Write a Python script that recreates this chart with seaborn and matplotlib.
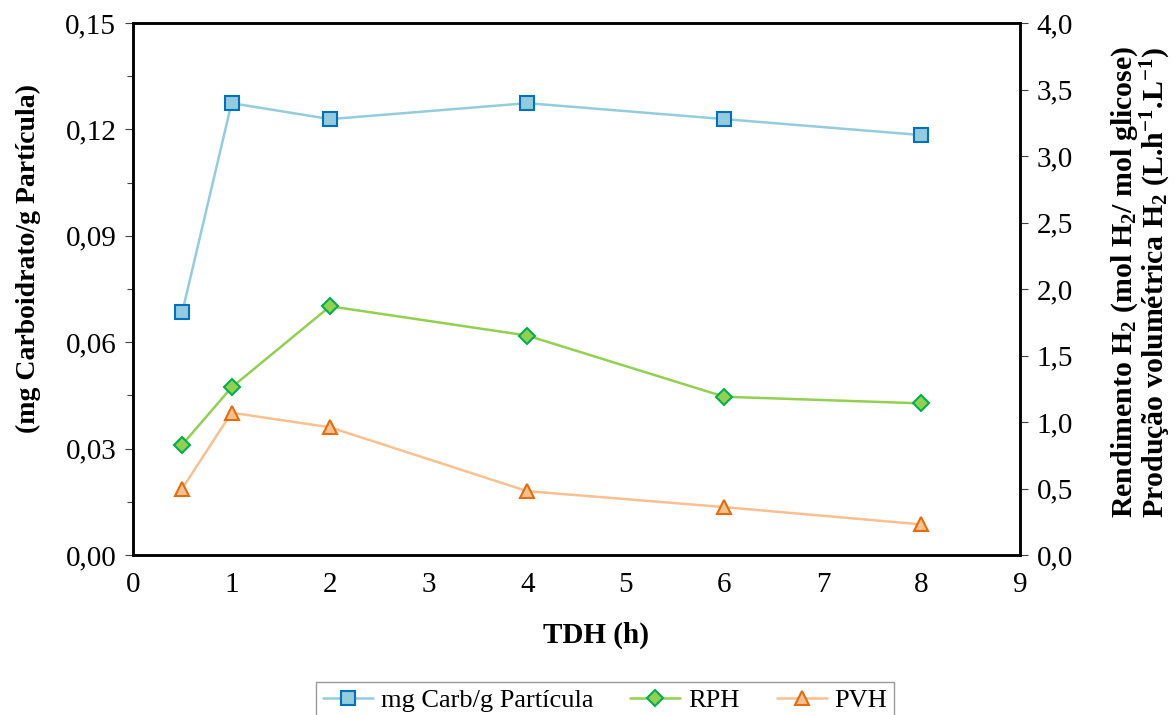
import matplotlib
matplotlib.use("Agg")
import matplotlib.pyplot as plt
import seaborn as sns
import pandas as pd
from matplotlib.ticker import MultipleLocator, FuncFormatter

# Data: hydraulic retention time (h) and measured responses
tdh = [0.5, 1, 2, 4, 6, 8]
carb = [0.0685, 0.1274, 0.1229, 0.1274, 0.1229, 0.1184]   # mg carbohydrate / g particle
rph = [0.83, 1.26, 1.87, 1.65, 1.19, 1.14]                 # H2 yield (mol H2 / mol glucose)
pvh = [0.50, 1.07, 0.96, 0.48, 0.36, 0.23]                 # volumetric H2 production

x_ticks = list(range(0, 10))
left_ticks = [0.00, 0.03, 0.06, 0.09, 0.12, 0.15]
right_ticks = [0.0, 0.5, 1.0, 1.5, 2.0, 2.5, 3.0, 3.5, 4.0]

sns.set_style("white")
plt.rcParams["font.family"] = ["Liberation Serif", "DejaVu Serif"]
plt.rcParams["text.color"] = "black"
plt.rcParams["axes.labelcolor"] = "black"
plt.rcParams["xtick.color"] = "black"
plt.rcParams["ytick.color"] = "black"
plt.rcParams["mathtext.fontset"] = "custom"
plt.rcParams["mathtext.rm"] = "Liberation Serif"
plt.rcParams["mathtext.bf"] = "Liberation Serif:bold"

df = pd.DataFrame({"TDH": tdh, "carb": carb, "rph": rph, "pvh": pvh})

fig = plt.figure(figsize=(11.75, 7.15), dpi=100)
ax = fig.add_axes([133 / 1175, 1 - 555 / 715, (1020 - 133) / 1175, (555 - 23) / 715])
ax2 = ax.twinx()

lw = 1.8
sns.lineplot(data=df, x="TDH", y="carb", ax=ax, color="#93CDDD", linewidth=lw,
             marker="s", markersize=10, markerfacecolor="#93CDDD",
             markeredgecolor="#0070C0", markeredgewidth=1.5,
             label="mg Carb/g Partícula", legend=False)
sns.lineplot(data=df, x="TDH", y="rph", ax=ax2, color="#92D050", linewidth=lw,
             marker="D", markersize=8, markerfacecolor="#92D050",
             markeredgecolor="#00B050", markeredgewidth=1.5,
             label="RPH", legend=False)
sns.lineplot(data=df, x="TDH", y="pvh", ax=ax2, color="#FAC090", linewidth=lw,
             marker="^", markersize=10.5, markerfacecolor="#FAC090",
             markeredgecolor="#E46C0A", markeredgewidth=1.5,
             label="PVH", legend=False)

comma = lambda fmt: FuncFormatter(lambda v, p: (fmt % v).replace(".", ","))

ax.set_xlim(0, 9)
ax.set_ylim(0, 0.15)
ax2.set_ylim(0, 4.0)
ax.set_xticks(x_ticks)
ax.xaxis.set_minor_locator(MultipleLocator(0.5))
ax.set_yticks(left_ticks)
ax.yaxis.set_minor_locator(MultipleLocator(0.015))
ax.yaxis.set_major_formatter(comma("%.2f"))
ax2.set_yticks(right_ticks)
ax2.yaxis.set_major_formatter(comma("%.1f"))

for a in (ax, ax2):
    for s in a.spines.values():
        s.set_linewidth(1.8)
        s.set_color("black")
ax.tick_params(axis="both", which="major", direction="out", length=6, width=0.8,
               labelsize=21, color="#404040", pad=6)
ax.tick_params(axis="both", which="minor", direction="out", length=4, width=0.8,
               color="#404040")
ax2.tick_params(axis="y", which="major", direction="out", length=6, width=0.8,
                labelsize=21, color="#404040", pad=6)

ax.set_xlabel("TDH (h)", fontsize=21, fontweight="bold")
ax.xaxis.set_label_coords((596 - 133) / 887, -(622 - 555) / 532)
ax.set_ylabel("")
ax2.set_ylabel("")

fig.text(28 / 1175, 1 - 259 / 715, "(mg Carboidrato/g Partícula)", rotation=90,
         ha="center", va="center", fontsize=20, fontweight="bold")
fig.text(1141 / 1175, 1 - 282 / 715,
         "Rendimento $\\mathbf{H_2}$ (mol $\\mathbf{H_2}$/ mol glicose)\n"
         "Produção volumétrica $\\mathbf{H_2}$ (L.h$\\mathbf{^{-1}}$.L$\\mathbf{^{-1}}$)",
         rotation=90, ha="center", va="center", multialignment="center",
         fontsize=21.5, fontweight="bold", linespacing=0.95)

handles = ax.get_lines()[:1] + ax2.get_lines()[:2]
labels = ["mg Carb/g Partícula", "RPH", "PVH"]
leg = fig.legend(handles, labels, loc="upper center", ncol=3,
                 bbox_to_anchor=(605 / 1175, 1 - 682 / 715), borderaxespad=0,
                 fontsize=19, frameon=True, fancybox=False, edgecolor="#808080",
                 handlelength=1.9, columnspacing=1.4, handletextpad=0.3,
                 borderpad=0.25)
leg.get_frame().set_linewidth(1.0)

fig.savefig("out.png", dpi=100)
